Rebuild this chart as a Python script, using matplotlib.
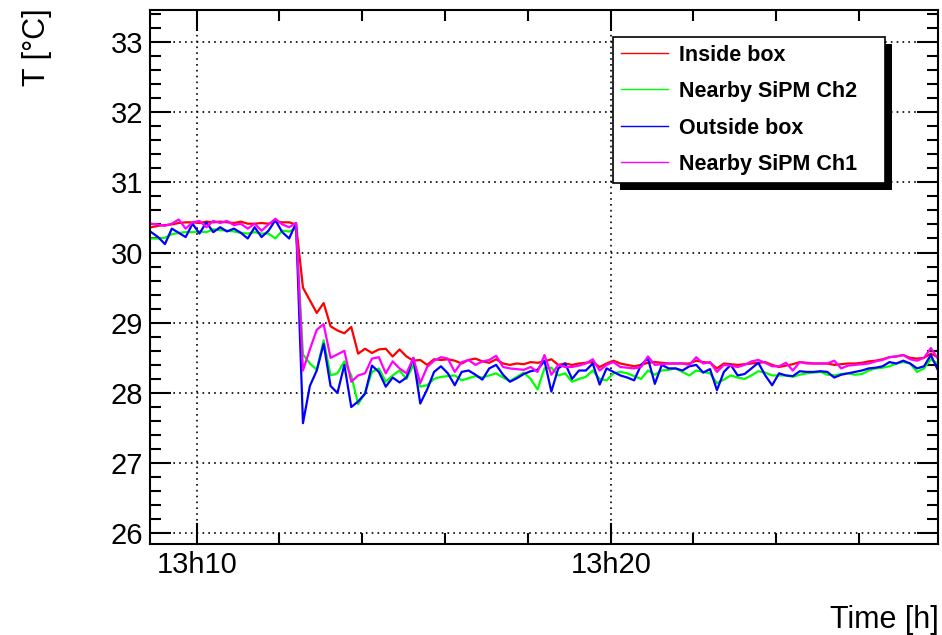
import numpy as np
import matplotlib.pyplot as plt
from matplotlib.lines import Line2D
from matplotlib.patches import Rectangle
from matplotlib.ticker import MultipleLocator, FixedLocator

plt.rcParams['font.family'] = ['Liberation Sans', 'DejaVu Sans']

# temperatures [degC], one reading every 10 s from 13h08m54s
inside_box = [
    30.36, 30.38, 30.39, 30.40, 30.42, 30.43, 30.43, 30.42, 30.44, 30.43, 30.44,
    30.43, 30.42, 30.44, 30.41, 30.41, 30.42, 30.41, 30.44, 30.43, 30.43, 30.40,
    29.50, 29.32, 29.14, 29.28, 28.95, 28.89, 28.85, 28.94, 28.56, 28.63,
    28.57, 28.62, 28.63, 28.52, 28.62, 28.52, 28.46, 28.47, 28.40, 28.48,
    28.47, 28.48, 28.46, 28.42, 28.47, 28.49,
    28.45, 28.43, 28.48, 28.42, 28.40, 28.42, 28.41, 28.44, 28.43, 28.45,
    28.48, 28.40, 28.42, 28.40, 28.42, 28.43, 28.44, 28.37, 28.42, 28.46,
    28.42, 28.40, 28.38, 28.40, 28.43, 28.44, 28.43, 28.42, 28.42, 28.42, 28.42,
    28.46, 28.44, 28.43, 28.35, 28.42, 28.41, 28.40, 28.41, 28.42, 28.43,
    28.44, 28.40, 28.37, 28.39, 28.41, 28.44, 28.43, 28.42, 28.42, 28.42,
    28.40, 28.41, 28.42, 28.42, 28.43, 28.45, 28.46, 28.48, 28.51, 28.52,
    28.54, 28.50, 28.49, 28.50, 28.56, 28.51,
]
sipm_ch2 = [
    30.20, 30.20, 30.21, 30.26, 30.28, 30.29, 30.29, 30.30, 30.29, 30.33, 30.32,
    30.31, 30.30, 30.28, 30.27, 30.29, 30.27, 30.27, 30.20, 30.31, 30.30, 30.34,
    28.55, 28.42, 28.33, 28.75, 28.25, 28.28, 28.45, 28.25, 27.84, 28.00,
    28.30, 28.35, 28.16, 28.25, 28.32, 28.20, 28.40, 28.09, 28.11, 28.20,
    28.23, 28.24, 28.25, 28.18, 28.21, 28.24,
    28.22, 28.25, 28.28, 28.22, 28.17, 28.23, 28.29, 28.20, 28.05, 28.35,
    28.36, 28.25, 28.28, 28.16, 28.20, 28.23, 28.32, 28.20, 28.18, 28.28,
    28.30, 28.28, 28.24, 28.20, 28.32, 28.26, 28.32, 28.33, 28.35,
    28.30, 28.25, 28.32, 28.30, 28.28, 28.14, 28.19, 28.25, 28.22, 28.20,
    28.25, 28.31, 28.29, 28.25, 28.25, 28.25, 28.23, 28.26, 28.28, 28.29,
    28.30, 28.26, 28.25, 28.27, 28.28, 28.26, 28.27, 28.32, 28.35, 28.36,
    28.38, 28.42, 28.44, 28.42, 28.30, 28.35, 28.48, 28.42,
]
outside_box = [
    30.29, 30.22, 30.12, 30.34, 30.28, 30.22, 30.41, 30.27, 30.43, 30.29, 30.36,
    30.30, 30.34, 30.28, 30.20, 30.36, 30.22, 30.31, 30.46, 30.29, 30.20, 30.42,
    27.57, 28.10, 28.32, 28.70, 28.10, 28.00, 28.40, 27.80, 27.88, 27.99,
    28.39, 28.30, 28.09, 28.22, 28.15, 28.22, 28.50, 27.85, 28.05, 28.30,
    28.38, 28.28, 28.11, 28.30, 28.32, 28.26,
    28.19, 28.35, 28.40, 28.26, 28.16, 28.21, 28.27, 28.31, 28.33, 28.46,
    28.02, 28.35, 28.42, 28.20, 28.32, 28.32, 28.42, 28.12, 28.35, 28.30,
    28.25, 28.22, 28.18, 28.40, 28.49, 28.13, 28.40, 28.35, 28.35,
    28.32, 28.38, 28.40, 28.29, 28.34, 28.04, 28.30, 28.40, 28.25, 28.27,
    28.35, 28.43, 28.25, 28.11, 28.28, 28.25, 28.24, 28.31, 28.30, 28.30,
    28.31, 28.30, 28.22, 28.26, 28.28, 28.30, 28.32, 28.35, 28.36, 28.38,
    28.44, 28.42, 28.46, 28.42, 28.35, 28.38, 28.54, 28.33,
]
sipm_ch1 = [
    30.41, 30.40, 30.38, 30.41, 30.47, 30.34, 30.43, 30.45, 30.36, 30.45, 30.42,
    30.45, 30.39, 30.41, 30.34, 30.41, 30.31, 30.40, 30.48, 30.40, 30.36, 30.42,
    28.32, 28.62, 28.90, 28.98, 28.50, 28.55, 28.60, 28.16, 28.25, 28.28,
    28.49, 28.51, 28.28, 28.45, 28.35, 28.28, 28.50, 28.14, 28.37, 28.46,
    28.51, 28.49, 28.30, 28.44, 28.47, 28.40,
    28.45, 28.47, 28.53, 28.37, 28.35, 28.34, 28.33, 28.37, 28.30, 28.54,
    28.26, 28.40, 28.37, 28.37, 28.39, 28.42, 28.48, 28.32, 28.40, 28.44,
    28.37, 28.36, 28.35, 28.37, 28.52, 28.40, 28.41, 28.42, 28.42,
    28.42, 28.40, 28.51, 28.42, 28.44, 28.30, 28.40, 28.39, 28.37, 28.40,
    28.45, 28.47, 28.43, 28.38, 28.38, 28.43, 28.32, 28.44, 28.42, 28.42,
    28.42, 28.42, 28.46, 28.35, 28.39, 28.40, 28.41, 28.42, 28.45, 28.47,
    28.51, 28.52, 28.54, 28.48, 28.46, 28.50, 28.64, 28.49,
]

labels = ['Inside box', 'Nearby SiPM Ch2', 'Outside box', 'Nearby SiPM Ch1']
colors = ['#ff0000', '#00ff00', '#0000ff', '#ff00ff']
series = [inside_box, sipm_ch2, outside_box, sipm_ch1]

# time axis in minutes after 13h00
t_start = 8.9
t_step = 1 / 6
minutes = t_start + t_step * np.arange(len(inside_box))

fig = plt.figure(figsize=(9.42, 6.35), dpi=100)
ax = fig.add_axes([150 / 942, 1 - 544 / 635, 788 / 942, 534.5 / 635])

for vals, c, lab in zip(series, colors, labels):
    ax.plot(minutes, vals, color=c, lw=1.6, label=lab)

ax.set_xlim(8.872, 27.906)
ax.set_ylim(25.85, 33.46)

ax.xaxis.set_major_locator(FixedLocator([10, 20]))
ax.set_xticklabels(['13h10', '13h20'])
ax.xaxis.set_minor_locator(MultipleLocator(2))
ax.yaxis.set_major_locator(MultipleLocator(1))
ax.yaxis.set_minor_locator(MultipleLocator(0.2))

ax.tick_params(which='both', direction='in', top=True, right=True,
               width=1.5, labelsize=21)
ax.tick_params(which='major', length=15)
ax.tick_params(which='minor', length=8)
ax.tick_params(axis='x', which='major', pad=5)
ax.tick_params(axis='y', which='major', pad=5)
ax.grid(True, which='major', color='black', linestyle=(0, (1, 2.5)), linewidth=1.2)
for s in ax.spines.values():
    s.set_linewidth(1.5)

# legend with a ROOT-like drop shadow
handles = [Line2D([], [], color=c, lw=1.0) for c in colors]
leg = ax.legend(handles, labels, loc='upper left',
                bbox_to_anchor=(0.5876, 0.6773, 0.3452, 0.2713), mode='expand',
                borderaxespad=0, fancybox=False, framealpha=1, edgecolor='black',
                prop={'weight': 'bold', 'size': 15.5}, handlelength=2.2,
                handletextpad=0.5, labelspacing=0.72, borderpad=0.35)
leg.get_frame().set_linewidth(1.2)

fig.canvas.draw()
bb = leg.get_window_extent().transformed(ax.transAxes.inverted())
ax.add_patch(Rectangle((bb.x0 + 7 / 788, bb.y0 - 7 / 534.5), bb.width, bb.height,
                       transform=ax.transAxes, facecolor='black', edgecolor='none',
                       zorder=4.9, clip_on=False))

fig.text(37 / 942, 1 - 8 / 635, 'T [°C]', rotation=90, ha='center', va='top', fontsize=22)
fig.text(939 / 942, 1 - 620 / 635, 'Time [h]', ha='right', va='center', fontsize=22)

fig.savefig('out.png', dpi=100)
